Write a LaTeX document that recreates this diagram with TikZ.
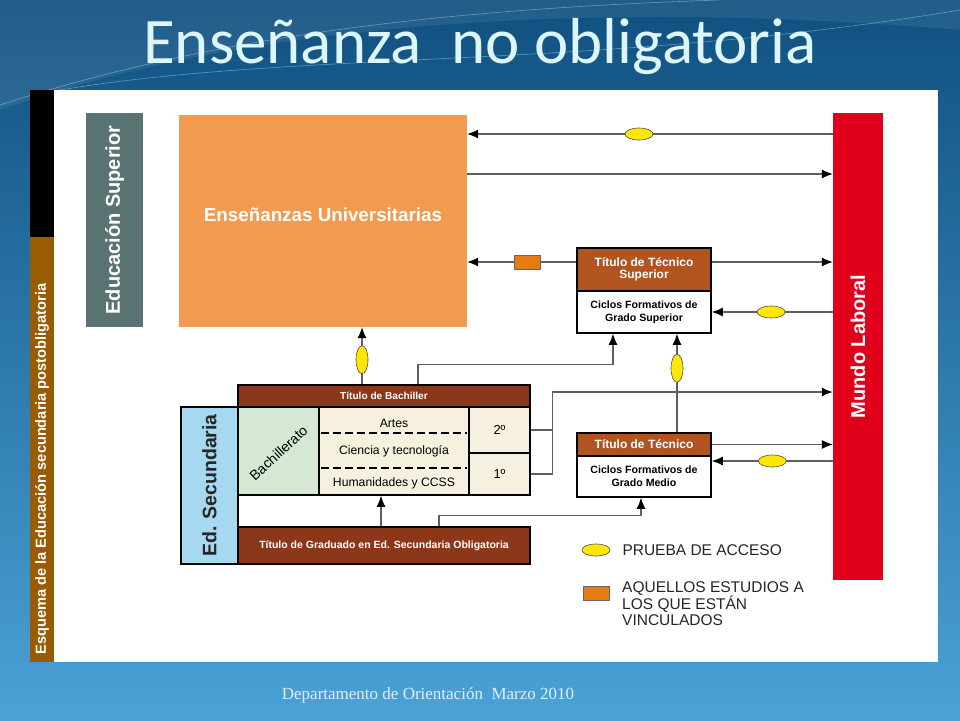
\documentclass[tikz,border=0pt]{standalone}
\usepackage{fontspec}
\setmainfont{Liberation Sans}
\newfontfamily\titlefont{Carlito}
\newfontfamily\footfont{Liberation Serif}
\usepackage{tikz}
\usetikzlibrary{arrows.meta,positioning,shapes.geometric}

\definecolor{bgtop}{RGB}{16,80,128}
\definecolor{bgbot}{RGB}{74,162,214}
\definecolor{titlecol}{RGB}{220,246,252}
\definecolor{footcol}{RGB}{225,240,250}
\definecolor{supgray}{RGB}{88,115,113}
\definecolor{uniorange}{RGB}{242,154,78}
\definecolor{laboralred}{RGB}{224,0,27}
\definecolor{titulobrown}{RGB}{139,56,26}
\definecolor{tecnicobrown}{RGB}{178,84,32}
\definecolor{secblue}{RGB}{166,216,242}
\definecolor{bachgreen}{RGB}{212,232,212}
\definecolor{cream}{RGB}{246,240,222}
\definecolor{stripbrown}{RGB}{153,92,4}
\definecolor{pruebayellow}{RGB}{255,232,0}
\definecolor{vincorange}{RGB}{232,122,22}
\definecolor{linegray}{RGB}{95,95,95}

\newcommand{\fsz}[1]{\fontsize{#1}{1.2\dimexpr#1pt\relax}\selectfont}

\begin{document}
\begin{tikzpicture}[x=1pt, y=-1pt,
    big/.style={inner sep=2pt, align=center, text=white, font=\bfseries\fsz{20}},
    cell/.style={draw=black, line width=1.6pt, inner sep=0pt, align=center},
    conn/.style={draw=linegray, line width=1.1pt, -{Latex[length=11pt,width=9pt,color=black]}},
    plain/.style={draw=linegray, line width=1.1pt},
    prueba/.style={ellipse, draw=black!70, line width=0.6pt, fill=pruebayellow,
                   minimum width=28pt, minimum height=12pt, inner sep=0pt},
    pruebav/.style={prueba, minimum width=12pt, minimum height=28pt},
    vinc/.style={rectangle, draw=black!60, line width=0.6pt, fill=vincorange,
                 minimum width=26pt, minimum height=14pt, inner sep=0pt},
    legend/.style={inner sep=0pt, align=left, font=\fsz{15.5}, text=black!85}]

  % background
  \useasboundingbox (0,0) rectangle (960,720);
  \fill[top color=bgtop, bottom color=bgbot] (0,0) rectangle (960,720);
  \fill[white, opacity=0.08] (0,110) .. controls (250,20) and (600,0) .. (960,30)
        -- (960,0) -- (0,0) -- cycle;
  \draw[white, opacity=0.35, line width=0.6pt] (0,105) .. controls (200,40) and (420,10) .. (720,0);
  \draw[cyan!40, opacity=0.5, line width=0.6pt] (60,90) .. controls (300,50) and (600,70) .. (960,10);

  \node (titulo) [font=\titlefont\fsz{65}, text=titlecol] at (480,47) {Enseñanza\ \ no obligatoria};

  % panel
  \fill[white] (54,90) rectangle (938,662);
  \fill[black] (30,90) rectangle (54,237);
  \fill[stripbrown] (30,237) rectangle (54,662);
  \node (esquema) [rotate=90, text=white, font=\bfseries\fsz{14.6}] at (42,469)
        {Esquema de la Educación secundaria postobligatoria};

  % big blocks
  \node (edsup) [big, fill=supgray, minimum width=57pt, minimum height=214pt] at (114.5,220) {};
  \node [big, rotate=90] at (edsup.center) {Educación Superior};
  \node (univ) [big, fill=uniorange, minimum width=288pt, minimum height=212pt] at (323,221) {};
  \node [big, font=\bfseries\fsz{18.8}] at ([yshift=6pt]univ.center) {Enseñanzas Universitarias};
  \node (laboral) [big, fill=laboralred, minimum width=50pt, minimum height=467pt] at (858,346.5) {};
  \node [big, rotate=90] at (laboral.center) {Mundo Laboral};

  % tecnico superior
  \node (tsup) [cell, fill=tecnicobrown, text=white, font=\bfseries\fsz{12},
        minimum width=134pt, minimum height=43pt] at (644,269.5) {Título de Técnico\\[-2pt]Superior};
  \node (cgs) [cell, fill=white, font=\bfseries\fsz{10.6},
        minimum width=134pt, minimum height=42pt] at (644,312) {Ciclos Formativos de\\Grado Superior};

  % tecnico medio
  \node (tmed) [cell, fill=tecnicobrown, text=white, font=\bfseries\fsz{12},
        minimum width=134pt, minimum height=23pt] at (644,444.5) {Título de Técnico};
  \node (cgm) [cell, fill=white, font=\bfseries\fsz{10.6},
        minimum width=134pt, minimum height=41pt] at (644,476.5) {Ciclos Formativos de\\Grado Medio};

  % secundaria
  \node (edsec) [cell, fill=secblue, minimum width=57pt, minimum height=157pt] at (209.5,485.5) {};
  \node [rotate=90, font=\bfseries\fsz{19.5}, text=black!85] at (edsec.center) {Ed. Secundaria};
  \node (bachiller) [cell, fill=titulobrown, text=white, font=\bfseries\fsz{10.1},
        minimum width=292pt, minimum height=22pt] at (384,396) {Título de Bachiller};
  \node (bachgr) [cell, fill=bachgreen, minimum width=81pt, minimum height=88pt] at (278.5,451) {};
  \node [rotate=43, font=\fsz{14}] at ([yshift=-2pt]bachgr.center) {Bachillerato};
  \node (modal) [cell, fill=cream, minimum width=150pt, minimum height=88pt] at (394,451) {};
  \node (seg) [cell, fill=cream, font=\fsz{13}, minimum width=61pt, minimum height=46pt] at (499.5,430) {2º};
  \node (prim) [cell, fill=cream, font=\fsz{13}, minimum width=61pt, minimum height=42pt] at (499.5,474) {1º};
  \node (artes) [font=\fsz{12.2}] at ([yshift=28pt]modal.center) {Artes};
  \node (ciencia) [font=\fsz{12.2}] at (modal.center) {Ciencia y tecnología};
  \node (human) [font=\fsz{12.2}] at ([yshift=-32pt]modal.center) {Humanidades y CCSS};
  \draw[line width=2pt, dash pattern=on 8pt off 4pt] ([xshift=3pt,yshift=18pt]modal.west) -- ([xshift=-3pt,yshift=18pt]modal.east);
  \draw[line width=2pt, dash pattern=on 8pt off 4pt] ([xshift=3pt,yshift=-17pt]modal.west) -- ([xshift=-3pt,yshift=-17pt]modal.east);
  \node (graduado) [cell, fill=titulobrown, text=white, font=\bfseries\fsz{10.5},
        minimum width=292pt, minimum height=37pt] at (384,545.5) {Título de Graduado en Ed. Secundaria Obligatoria};

  % connectors
  \draw[conn] (laboral.west |- 0,134) -- node[prueba, pos=0.53] {} (univ.east |- 0,134);
  \draw[conn] (univ.east |- 0,174) -- (laboral.west |- 0,174);
  \draw[conn] (tsup.west |- 0,262) -- node[vinc, pos=0.45] {} (univ.east |- 0,262);
  \draw[conn] (tsup.east |- 0,262) -- (laboral.west |- 0,262);
  \draw[conn] (laboral.west |- cgs.east) -- node[prueba, pos=0.51] {} (cgs.east);
  \draw[conn] ([xshift=-22pt]bachiller.north) -- node[pruebav, pos=0.43] {} ([xshift=-22pt]bachiller.north |- univ.south);
  \draw[conn] ([xshift=34pt]bachiller.north) -- ++(0,-20) -| ([xshift=-31pt]cgs.south);
  \draw[conn] ([xshift=33pt]tmed.north) -- node[pruebav, pos=0.65] {} ([xshift=33pt]cgs.south);
  \draw[plain] (seg.east) -- ++(22,0);
  \draw[conn] (prim.east) -- ++(22,0) |- (laboral.west |- 0,392);
  \draw[conn] (tmed.east) -- (laboral.west |- tmed.east);
  \draw[conn] (laboral.west |- 0,461) -- node[prueba, pos=0.5] {} (cgm.east |- 0,461);
  \draw[conn] ([xshift=-3pt]graduado.north) -- ([xshift=-3pt]graduado.north |- modal.south);
  \draw[conn] ([xshift=55pt]graduado.north) -- ++(0,-11) -| ([xshift=-3pt]cgm.south);

  % legend
  \node (legprueba) [prueba] at (596,550) {};
  \node (legpruebatxt) [legend, right=12pt of legprueba] {PRUEBA DE ACCESO};
  \node (legvinc) [vinc] at (596,593) {};
  \node (legvinctxt) [legend, anchor=west] at (622,604) {AQUELLOS ESTUDIOS A\\[-2pt]LOS QUE ESTÁN\\[-2pt]VINCULADOS};

  \node (pie) [font=\footfont\fsz{17}, text=footcol] at (428,695) {Departamento de Orientación\ \ Marzo 2010};
\end{tikzpicture}
\end{document}
